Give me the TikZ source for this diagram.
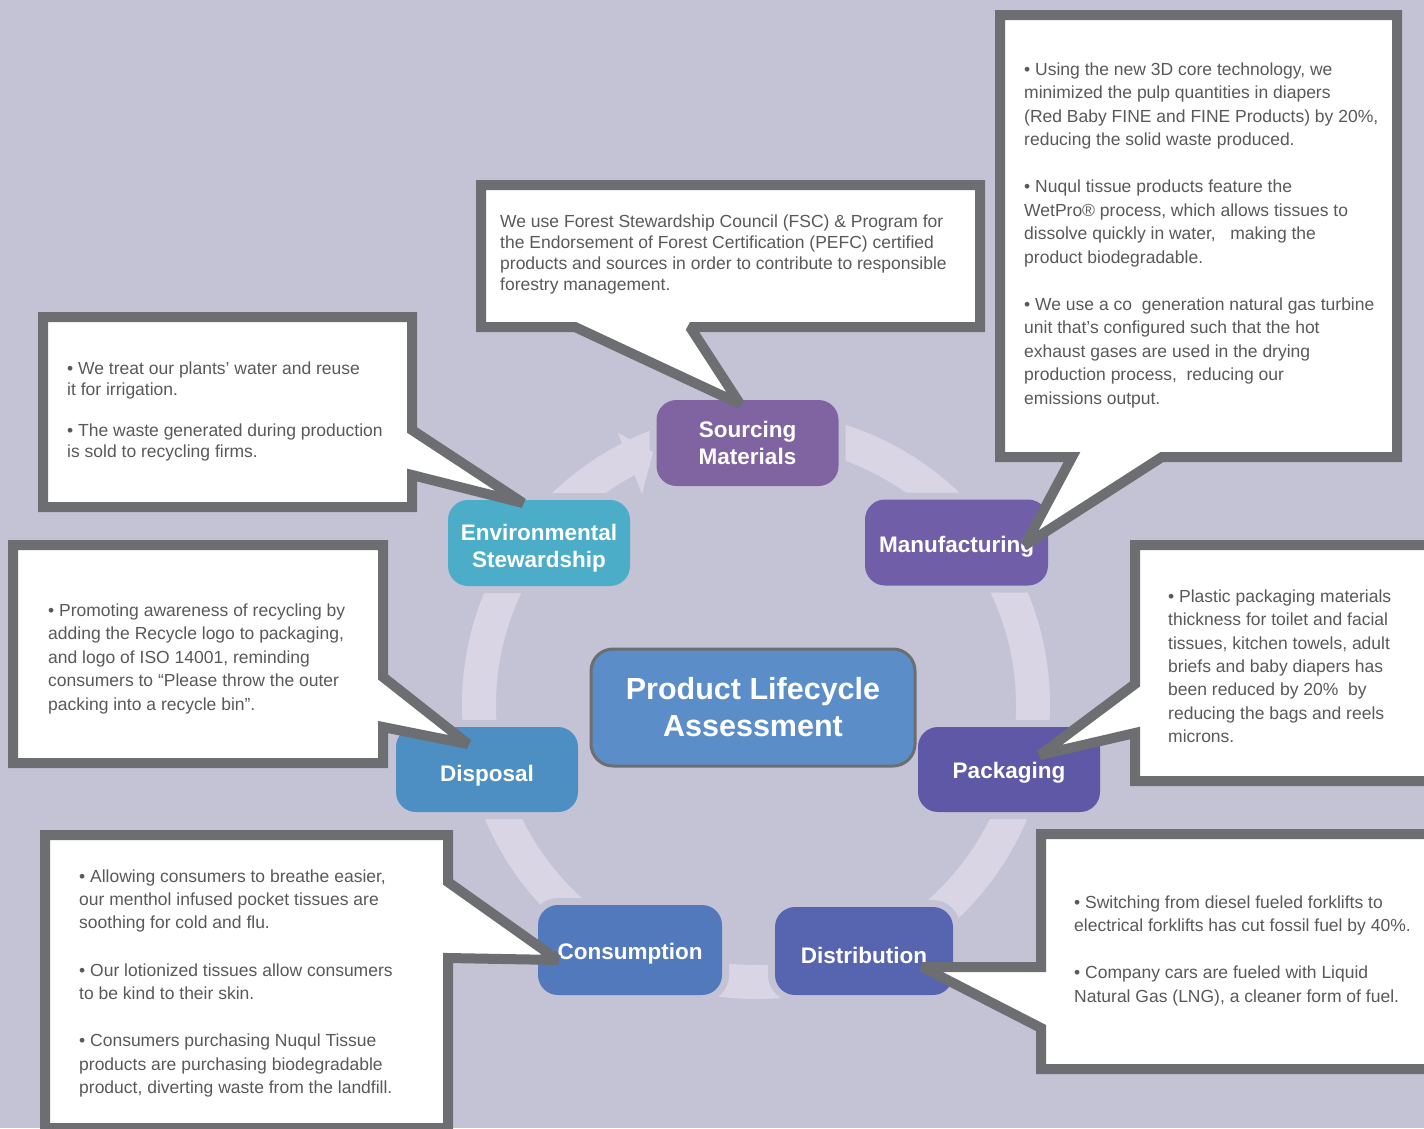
\documentclass[tikz,border=0pt]{standalone}
\usepackage{fontspec}
\setmainfont{Liberation Sans}
\usetikzlibrary{arrows,shapes}
\definecolor{bgcol}{RGB}{196,195,214}
\definecolor{ringcol}{RGB}{217,213,228}
\definecolor{linegray}{RGB}{109,110,113}
\definecolor{txtgray}{RGB}{88,89,91}
\definecolor{srccol}{RGB}{128,100,162}
\definecolor{mancol}{RGB}{113,94,168}
\definecolor{pkgcol}{RGB}{94,88,166}
\definecolor{discol}{RGB}{87,101,176}
\definecolor{concol}{RGB}{82,121,188}
\definecolor{dspcol}{RGB}{77,143,195}
\definecolor{envcol}{RGB}{75,173,199}
\definecolor{plcacol}{RGB}{91,141,200}

\begin{document}
\begin{tikzpicture}[x=1pt,y=-1pt,line join=miter,
  stage/.style={rounded corners=20pt,minimum width=182pt,minimum height=86pt,inner sep=0pt,
    text=white,align=center,font=\bfseries\fontsize{22.5}{27}\selectfont,
    preaction={draw=bgcol,line width=14pt}},
  notebox/.style={draw=linegray,line width=10pt,fill=white,miter limit=2},
  notetext/.style={anchor=north west,inner sep=0pt,align=left,text=txtgray}]
  \useasboundingbox (0,0) rectangle (1424,1128);
  \fill[bgcol] (0,0) rectangle (1424,1128);
  \draw[ringcol,line width=34pt] (756,705) circle (277pt);

  \node (sourcing) at (747.5,443) [stage,fill=srccol] {Sourcing\\Materials};
  \node (manufacturing) at (956.5,542.5) [stage,fill=mancol,minimum width=183pt,
    text height=20pt,text depth=0pt] {Manufacturing};
  \node (packaging) at (1009,769.5) [stage,fill=pkgcol,minimum height=85pt,
    text height=18pt,text depth=0pt] {Packaging};
  \node (distribution) at (864,951) [stage,fill=discol,minimum width=178pt,minimum height=88pt,
    text height=24pt,text depth=0pt] {Distribution};
  \node (consumption) at (630,950) [stage,fill=concol,minimum width=184pt,minimum height=90pt,
    text height=18pt,text depth=0pt] {Consumption};
  \node (disposal) at (487,769.5) [stage,fill=dspcol,minimum height=85pt,
    text height=24pt,text depth=0pt] {Disposal};
  \node (envstew) at (539,543) [stage,fill=envcol]
    {\raisebox{-5pt}[\height][\depth]{Environmental}\\\raisebox{-5pt}[\height][\depth]{Stewardship}};
  \node (plca) at (753,707.5) [rounded corners=22pt,minimum width=324pt,minimum height=117pt,
    fill=plcacol,draw=linegray,line width=3pt,text=white,align=center,
    font=\bfseries\fontsize{30.5}{37}\selectfont] {Product Lifecycle\\Assessment};
  \fill[ringcol] (618,433) -- (653,452) -- (642,494) -- cycle;

  \coordinate (tipEnv) at (523,503);
  \coordinate (tipSrc) at (740,404);
  \coordinate (tipMan) at (1025,545);
  \coordinate (tipPkg) at (1040,755);
  \coordinate (tipDis) at (922,967);
  \coordinate (tipCon) at (558,960);
  \coordinate (tipDsp) at (468,744);
  \draw[notebox] (43,317) -- (412,317) -- (412,430) -- (tipEnv) -- (412,475) -- (412,507) -- (43,507) -- cycle;
  \draw[notebox] (481,185) -- (980,185) -- (980,327) -- (690,327) -- (tipSrc) -- (575,327) -- (481,327) -- cycle;
  \draw[notebox] (1000,15) -- (1397,15) -- (1397,457) -- (1162,457) -- (tipMan) -- (1072,457) -- (1000,457) -- cycle;
  \draw[notebox] (1135,545) -- (1440,545) -- (1440,781) -- (1135,781) -- (1135,733) -- (tipPkg) -- (1135,684) -- cycle;
  \draw[notebox] (1041,834) -- (1440,834) -- (1440,1069) -- (1041,1069) -- (1041,1028) -- (tipDis) -- (1041,967) -- cycle;
  \draw[notebox] (45,835) -- (448,835) -- (448,882) -- (tipCon) -- (448,958) -- (448,1128) -- (45,1128) -- cycle;
  \draw[notebox] (13,545) -- (383,545) -- (383,677) -- (tipDsp) -- (383,727) -- (383,763) -- (13,763) -- cycle;

  \node (noteEnv) at (67,361.5) [notetext,font=\fontsize{17.5}{21}\selectfont]
    {• We treat our plants’ water and reuse\\it for irrigation.\\[20pt]
     • The waste generated during production\\is sold to recycling firms.};
  \node (noteSrc) at (500,214.5) [notetext,font=\fontsize{17.5}{21}\selectfont]
    {We use Forest Stewardship Council (FSC) \& Program for\\
     the Endorsement of Forest Certification (PEFC) certified\\
     products and sources in order to contribute to responsible\\
     forestry management.};
  \node (noteMan) at (1024,62.5) [notetext,font=\fontsize{17.5}{23.5}\selectfont]
    {• Using the new 3D core technology, we\\minimized the pulp quantities in diapers\\
     (Red Baby FINE and FINE Products) by 20\%,\\reducing the solid waste produced.\\[23.5pt]
     • Nuqul tissue products feature the\\WetPro® process, which allows tissues to\\
     dissolve quickly in water,\ \ \ making the\\product biodegradable.\\[23.5pt]
     • We use a co\ \ generation natural gas turbine\\unit that’s configured such that the hot\\
     exhaust gases are used in the drying\\production process,\ \ reducing our\\emissions output.};
  \node (notePkg) at (1168,589.5) [notetext,font=\fontsize{17.5}{23.4}\selectfont]
    {• Plastic packaging materials\\thickness for toilet and facial\\tissues, kitchen towels, adult\\
     briefs and baby diapers has\\been reduced by 20\%\ \ by\\reducing the bags and reels\\microns.};
  \node (noteDis) at (1074,895.5) [notetext,font=\fontsize{17.5}{23.5}\selectfont]
    {• Switching from diesel fueled forklifts to\\electrical forklifts has cut fossil fuel by 40\%.\\[23.5pt]
     • Company cars are fueled with Liquid\\Natural Gas (LNG), a cleaner form of fuel.};
  \node (noteCon) at (79,869.5) [notetext,font=\fontsize{17.5}{23.3}\selectfont]
    {• Allowing consumers to breathe easier,\\our menthol infused pocket tissues are\\
     soothing for cold and flu.\\[24pt]
     • Our lotionized tissues allow consumers\\to be kind to their skin.\\[24pt]
     • Consumers purchasing Nuqul Tissue\\products are purchasing biodegradable\\
     product, diverting waste from the landfill.};
  \node (noteDsp) at (48,603.5) [notetext,font=\fontsize{17.5}{23.5}\selectfont]
    {• Promoting awareness of recycling by\\adding the Recycle logo to packaging,\\
     and logo of ISO 14001, reminding\\consumers to “Please throw the outer\\
     packing into a recycle bin”.};
\end{tikzpicture}
\end{document}
